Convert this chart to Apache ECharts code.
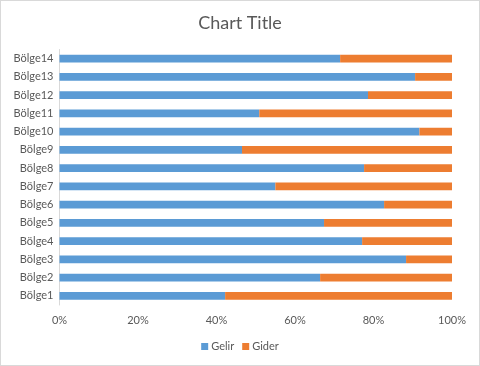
<!DOCTYPE html>
<html><head><meta charset="utf-8">
<script src="https://cdn.jsdelivr.net/npm/echarts@6/dist/echarts.min.js"></script>
<style>html,body{margin:0;padding:0;background:#fff}#c{width:478px;height:364px;border:1px solid #d9d9d9}</style>
</head><body><div id="c"></div>
<script>
var categories = ['Bölge1','Bölge2','Bölge3','Bölge4','Bölge5','Bölge6','Bölge7','Bölge8','Bölge9','Bölge10','Bölge11','Bölge12','Bölge13','Bölge14'];
var gelir = [42.2, 66.4, 88.3, 77.1, 67.4, 82.7, 55.0, 77.6, 46.5, 91.7, 50.9, 78.6, 90.6, 71.5];
var gider = [57.8, 33.6, 11.7, 22.9, 32.6, 17.3, 45.0, 22.4, 53.5, 8.3, 49.1, 21.4, 9.4, 28.5];
var xTicks = [0, 20, 40, 60, 80, 100];
var FONT = 'Lato, "Liberation Sans", sans-serif';
var chart = echarts.init(document.getElementById('c'));
chart.setOption({
  animation: false,
  textStyle: {fontFamily: FONT},
  title: {text: 'Chart Title', left: 'center', top: 8, textStyle: {fontSize: 18, fontWeight: 'normal', color: '#595959', fontFamily: FONT}},
  grid: {left: 58.5, right: 27, top: 48.5, bottom: 60},
  legend: {data: ['Gelir', 'Gider'], bottom: 8, left: 'center', itemWidth: 7, itemHeight: 7, itemGap: 8, icon: 'rect',
    textStyle: {fontSize: 11, color: '#595959', fontFamily: FONT, padding: [0,0,0,-2]}},
  xAxis: {type: 'value', min: 0, max: 100, interval: 20,
    axisLine: {show: false}, axisTick: {show: false}, splitLine: {show: false},
    axisLabel: {formatter: function(v){return v + '%';}, color: '#595959', fontSize: 11, margin: 10, fontFamily: FONT}},
  yAxis: {type: 'category', data: categories,
    axisLine: {show: true, lineStyle: {color: '#d9d9d9'}}, axisTick: {show: false},
    axisLabel: {color: '#595959', fontSize: 11, margin: 6, fontFamily: FONT}},
  series: [
    {name: 'Gelir', type: 'bar', stack: 's', data: gelir, barWidth: '42%', itemStyle: {color: '#5B9BD5'}},
    {name: 'Gider', type: 'bar', stack: 's', data: gider, barWidth: '42%', itemStyle: {color: '#ED7D31'}}
  ]
});
</script></body></html>
